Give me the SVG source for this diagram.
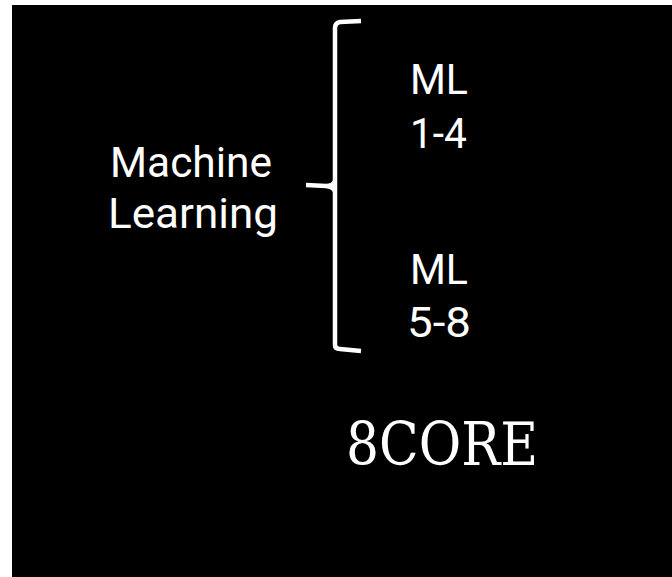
<svg xmlns="http://www.w3.org/2000/svg" width="672" height="577" viewBox="0 0 672 577">
  <style>
    .lbl { font-family: Roboto, "DejaVu Sans", sans-serif; font-size: 42px; fill: #ffffff; }
    .big { font-family: "DejaVu Serif", "Liberation Serif", serif; font-size: 59px; fill: #ffffff; }
    .brace { fill: none; stroke: #ffffff; stroke-width: 4.5; stroke-linejoin: round; stroke-linecap: butt; }
  </style>
  <rect x="0" y="0" width="672" height="577" fill="#ffffff"/>
  <rect x="12" y="5" width="660" height="572" fill="#000000"/>

  <g id="machine-learning">
    <text class="lbl" x="110" y="177" textLength="162" lengthAdjust="spacingAndGlyphs">Machine</text>
    <text class="lbl" x="108" y="228" textLength="170" lengthAdjust="spacingAndGlyphs">Learning</text>
  </g>

  <g id="ml-1-4">
    <text class="lbl" x="410" y="94" textLength="58" lengthAdjust="spacingAndGlyphs">ML</text>
    <text class="lbl" x="410" y="148" textLength="57" lengthAdjust="spacingAndGlyphs">1-4</text>
  </g>

  <g id="ml-5-8">
    <text class="lbl" x="410" y="284" textLength="58" lengthAdjust="spacingAndGlyphs">ML</text>
    <text class="lbl" x="407" y="337" textLength="64" lengthAdjust="spacingAndGlyphs">5-8</text>
  </g>

  <g id="core">
    <text class="big" x="346" y="465" textLength="192" lengthAdjust="spacingAndGlyphs">8CORE</text>
  </g>

  <g id="connectors">
    <path class="brace" d="M361,21 L340,22 Q335,23 335,28 L335,345 Q335,349 340,349 L361,351"/>
    <path class="brace" d="M306,185 L326,186 Q333,186 335,181 M326,186 Q333,187 335,191"/>
  </g>
</svg>
